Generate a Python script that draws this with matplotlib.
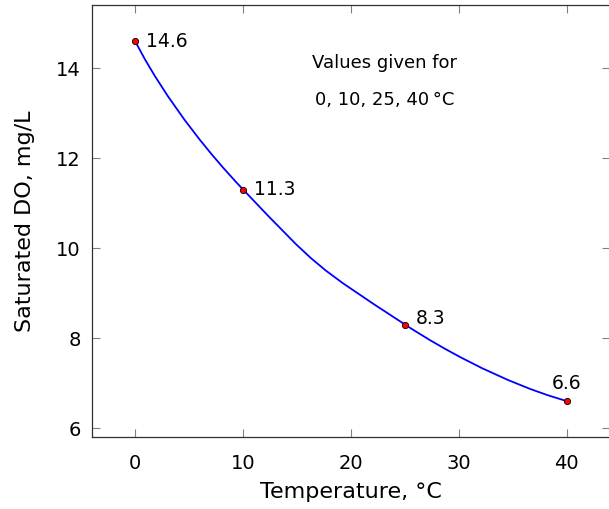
import matplotlib.pyplot as plt
from matplotlib.path import Path
from matplotlib.patches import PathPatch

# Datos: oxigênio dissolvido saturado vs temperatura
temperaturas = [0, 10, 25, 40]
od_saturado = [14.6, 11.3, 8.3, 6.6]
rotulos = ['14.6', '11.3', '8.3', '6.6']
xticks = [0, 10, 20, 30, 40]
yticks = [6, 8, 10, 12, 14]


def curva_suave(xs, ys, tensao=0.2775):
    # caminho Bezier passando pelos pontos (como "smooth" do pgfplots)
    pts = list(zip(xs, ys))
    n = len(pts)
    verts = [pts[0]]
    codes = [Path.MOVETO]
    for i in range(n - 1):
        p0 = pts[i - 1] if i > 0 else pts[i]
        p1 = pts[i]
        p2 = pts[i + 1]
        p3 = pts[i + 2] if i + 2 < n else pts[i + 1]
        if i == 0:
            c1 = p1
        else:
            c1 = (p1[0] + tensao * (p2[0] - p0[0]), p1[1] + tensao * (p2[1] - p0[1]))
        if i + 2 >= n:
            c2 = p2
        else:
            c2 = (p2[0] - tensao * (p3[0] - p1[0]), p2[1] - tensao * (p3[1] - p1[1]))
        verts += [c1, c2, p2]
        codes += [Path.CURVE4] * 3
    return Path(verts, codes)


fig = plt.figure(figsize=(6.09, 5.09), dpi=100)
ax = fig.add_axes([92 / 609, 72 / 509, 518 / 609, 432 / 509])

ax.add_patch(PathPatch(curva_suave(temperaturas, od_saturado), facecolor='none',
                       edgecolor='#0000ff', lw=1.3, zorder=2))
ax.plot(temperaturas, od_saturado, 'o', color='red', markeredgecolor='black',
        markeredgewidth=0.6, markersize=4.5, zorder=3)

# Rótulos dos pontos
offsets = [(8, 0, 'left', 'center'), (8, 0, 'left', 'center'),
           (8, 4, 'left', 'center'), (0, 6, 'center', 'bottom')]
for x, y, txt, (dx, dy, ha, va) in zip(temperaturas, od_saturado, rotulos, offsets):
    ax.annotate(txt, (x, y), xytext=(dx, dy), textcoords='offset points',
                ha=ha, va=va, fontsize=13.5)

ax.text(23.1, 14.11, 'Values given for', ha='center', va='center', fontsize=13)
ax.text(23.1, 13.29, '0, 10, 25, 40\u2009°C', ha='center', va='center', fontsize=13)

ax.set_xlim(-4, 44)
ax.set_ylim(5.8, 15.4)
ax.set_xticks(xticks)
ax.set_yticks(yticks)
ax.tick_params(direction='in', length=6, width=0.8, color='#808080',
               top=True, right=True, labelsize=14)
ax.tick_params(axis='x', pad=12)
ax.tick_params(axis='y', pad=8)
for s in ax.spines.values():
    s.set_linewidth(0.9)
    s.set_color('#303030')

ax.set_xlabel('Temperature, °C', fontsize=16, labelpad=7)
ax.set_ylabel('Saturated DO, mg/L', fontsize=16, labelpad=15)

fig.savefig('out.png', dpi=100)
